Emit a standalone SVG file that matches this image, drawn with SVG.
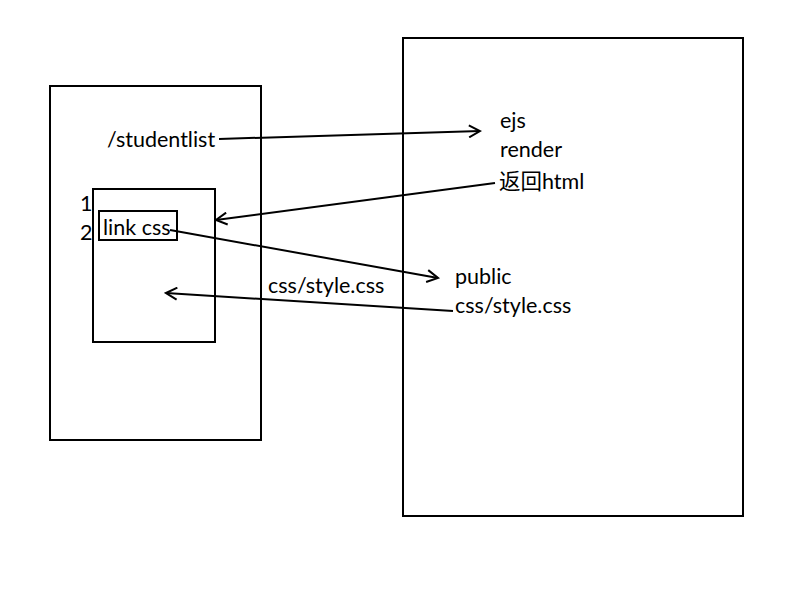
<svg xmlns="http://www.w3.org/2000/svg" width="800" height="600" viewBox="0 0 800 600">
<style>
.box{fill:none;stroke:#000;stroke-width:2}
.t{font-family:Lato,"Noto Sans CJK SC","Liberation Sans",sans-serif;font-size:21.5px;fill:#000}
.c{fill:none;stroke:#000;stroke-width:2}
</style>
<defs>
<marker id="ah" markerWidth="14" markerHeight="14" refX="12" refY="7" orient="auto" markerUnits="userSpaceOnUse">
<path d="M1,1 L12,7 L1,13" fill="none" stroke="#000" stroke-width="2"/>
</marker>
</defs>
<rect width="800" height="600" fill="#fff"/>
<g id="client">
<rect class="box" x="50" y="86" width="211" height="354"/>
<text class="t" x="107" y="147">/studentlist</text>
</g>
<g id="page">
<rect class="box" x="93" y="189" width="122" height="153"/>
<text class="t" x="80" y="211">1</text>
<text class="t" x="80" y="240">2</text>
</g>
<g id="link">
<rect class="box" x="99" y="211" width="78" height="29"/>
<text class="t" x="103" y="235">link css</text>
</g>
<g id="server">
<rect class="box" x="403" y="38" width="340" height="478"/>
<text class="t" x="500" y="128">ejs</text>
<text class="t" x="500" y="157">render</text>
<text class="t" x="499" y="189">返回html</text>
<text class="t" x="455" y="284">public</text>
<text class="t" x="455" y="313">css/style.css</text>
</g>
<g id="connectors">
<line class="c" x1="219" y1="139" x2="480" y2="131" marker-end="url(#ah)"/>
<line class="c" x1="495" y1="183" x2="216" y2="220" marker-end="url(#ah)"/>
<line class="c" x1="170" y1="230" x2="438" y2="278" marker-end="url(#ah)"/>
<line class="c" x1="453" y1="311" x2="166" y2="293" marker-end="url(#ah)"/>
<text class="t" x="268" y="293">css/style.css</text>
</g>
</svg>
